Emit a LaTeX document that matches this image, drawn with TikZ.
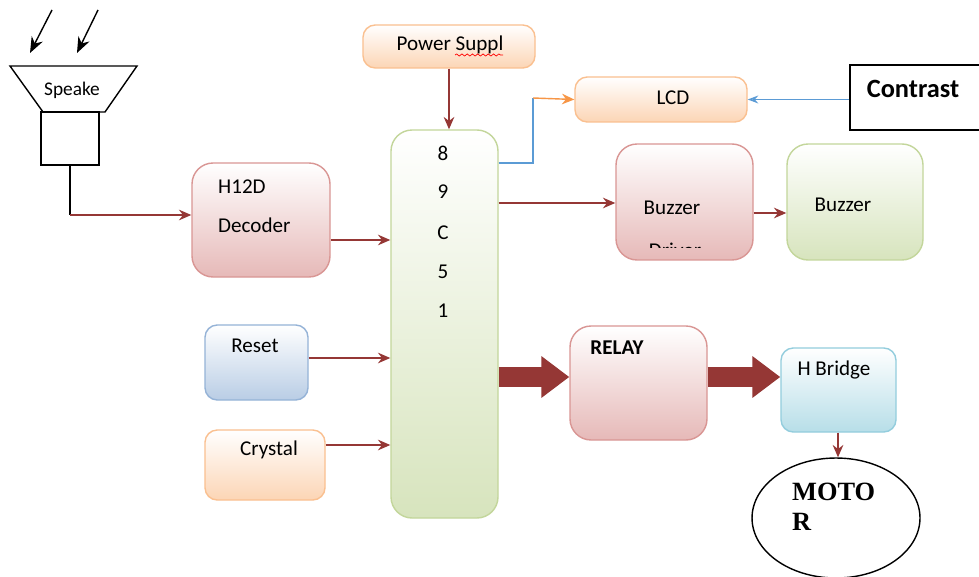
\documentclass[tikz,border=0pt]{standalone}
\usepackage{fontspec}
\setsansfont{Carlito}
\newfontfamily\motorfont{Liberation Serif}
\usetikzlibrary{arrows.meta,fit,positioning,shapes.geometric,decorations.pathmorphing}
\definecolor{wire}{HTML}{953735}
\definecolor{redfill}{HTML}{E6B9B8}
\definecolor{redline}{HTML}{D99694}
\definecolor{orfill}{HTML}{FCD5B5}
\definecolor{orline}{HTML}{FAC090}
\definecolor{grfill}{HTML}{D7E4BD}
\definecolor{grline}{HTML}{C3D69B}
\definecolor{blfill}{HTML}{B9CDE5}
\definecolor{blline}{HTML}{95B3D7}
\definecolor{cyfill}{HTML}{B7DEE8}
\definecolor{cyline}{HTML}{93CDDD}
\definecolor{lcdline}{HTML}{5B9BD5}
\definecolor{lcdtip}{HTML}{F79646}
\tikzset{pin/.style={wire, line width=1.1pt, -{Stealth[length=7pt, width=6pt]}},
  blk/.style={inner sep=0pt, rounded corners=7pt, thick},
  redblk/.style={blk, draw=redline, top color=white, bottom color=redfill},
  orblk/.style={blk, draw=orline, top color=white, bottom color=orfill},
  grblk/.style={blk, draw=grline, top color=white, bottom color=grfill},
  blblk/.style={blk, draw=blline, top color=white, bottom color=blfill},
  cyblk/.style={blk, draw=cyline, top color=white, bottom color=cyfill},
  fat/.style={wire, line width=0.4cm, -{Triangle[length=0.56cm, width=0.8cm]}}}

\begin{document}
\begin{tikzpicture}[x=0.02cm, y=-0.02cm, font=\sffamily\fontsize{12}{14}\selectfont]
  \clip (0,0) rectangle (979,577);
  \fill[white] (0,0) rectangle (979,577);
  % speaker
  \draw[thick] (10,66) -- (137,66) -- (105,112) -- (43,112) -- cycle;
  \node[font=\sffamily\fontsize{11}{13}\selectfont] (spkname) at (72,90) {Speake};
  \node[draw, thick, fit={(41,112) (99,165)}, inner sep=0pt] (spk) {};
  \coordinate (w1) at (52,10);
  \coordinate (w2) at (98,10);
  \draw[thick, -{Stealth[length=9pt, width=7pt]}] (w1) -- (30,53);
  \draw[thick, -{Stealth[length=9pt, width=7pt]}] (w2) -- (77,53);
  % blocks
  \node[redblk, rounded corners=12pt, fit={(192,163) (330,277)}] (dec) {};
  \node[anchor=west] (dectop) at (212,187) {H12D};
  \node[anchor=west] (decbot) at (212,225) {Decoder};
  \node[orblk, fit={(363,25) (535,68)}] (pwr) {};
  \node (pwrtxt) at (450,45) {Power Suppl};
  \draw[red, decorate, decoration={snake, amplitude=0.6pt, segment length=3pt}] (455,55) -- (503,55);
  \node[grblk, rounded corners=12pt, fit={(391,130) (498,518)}] (mcu) {};
  \foreach \t/\y in {8/153, 9/192, C/233, 5/272, 1/311}
    \node (mcu\t) at (443,\y) {\t};
  \node[orblk, fit={(575,77) (747,122)}] (lcd) {};
  \node (lcdtxt) at (673,98) {LCD};
  \node[draw, thick, fit={(850,65) (985,130)}, inner sep=0pt] (con) {};
  \node[font=\sffamily\bfseries\fontsize{15}{17}\selectfont] (contxt) at (913,89) {Contrast};
  \node[redblk, rounded corners=12pt, fit={(616,144) (753,260)}] (drv) {};
  \node (drvtop) at (672,208) {Buzzer};
  \begin{scope}
    \clip (616,144) rectangle (753,248);
    \node (drvbot) at (675,250) {Driver};
  \end{scope}
  \node[grblk, rounded corners=12pt, fit={(787,144) (923,260)}] (buz) {};
  \node (buztxt) at (843,205) {Buzzer};
  \node[blblk, fit={(205,325) (308,400)}] (rst) {};
  \node (rsttxt) at (255,346) {Reset};
  \node[orblk, fit={(205,430) (325,500)}] (xtal) {};
  \node (xtaltxt) at (269,450) {Crystal};
  \node[redblk, rounded corners=12pt, fit={(570,326) (707,440)}] (rly) {};
  \node[font=\sffamily\bfseries\fontsize{12}{14}\selectfont] (rlytxt) at (617,348) {RELAY};
  \node[cyblk, fit={(781,348) (896,432)}] (hb) {};
  \node (hbtxt) at (834,370) {H Bridge};
  \node[draw, thick, ellipse, minimum width=3.36cm, minimum height=2.4cm, inner sep=0pt] (mot) at (836,518) {};
  \node[anchor=west, font=\motorfont\bfseries\fontsize{15}{17}\selectfont] (mottop) at (786,492) {MOTO};
  \node[anchor=west, font=\motorfont\bfseries\fontsize{15}{17}\selectfont] (motbot) at (786,522) {R};
  % connectors
  \draw[thick] (spk.south) -- (spk.south |- 0,215);
  \draw[pin] (spk.south |- 0,215) -- (dec.west |- 0,215);
  \draw[pin] (pwr.south) -- (mcu.north -| pwr.south);
  \draw[pin] (dec.east |- 0,240) -- (mcu.west |- 0,240);
  \draw[pin] (rst.east |- 0,358) -- (mcu.west |- 0,358);
  \draw[pin] (xtal.east |- 0,445) -- (mcu.west |- 0,445);
  \draw[pin] (mcu.east |- 0,203) -- (drv.west |- 0,203);
  \draw[pin] (drv.east |- 0,213) -- (buz.west |- 0,213);
  \draw[lcdline, thick] (mcu.east |- 0,163) -- (533,163) -- (533,98);
  \draw[lcdtip, thick, -{Stealth[length=7pt, width=6pt]}] (533,98) -- (lcd.west);
  \draw[lcdline, thick, -{Stealth[length=6pt, open]}] (con.west |- lcd.east) -- (lcd.east);
  \draw[fat] (mcu.east |- 0,377) -- (rly.west |- 0,377);
  \draw[fat] (rly.east |- 0,377) -- (hb.west |- 0,377);
  \draw[pin] (hb.south -| 838,0) -- (mot.north -| 838,0);
\end{tikzpicture}
\end{document}
